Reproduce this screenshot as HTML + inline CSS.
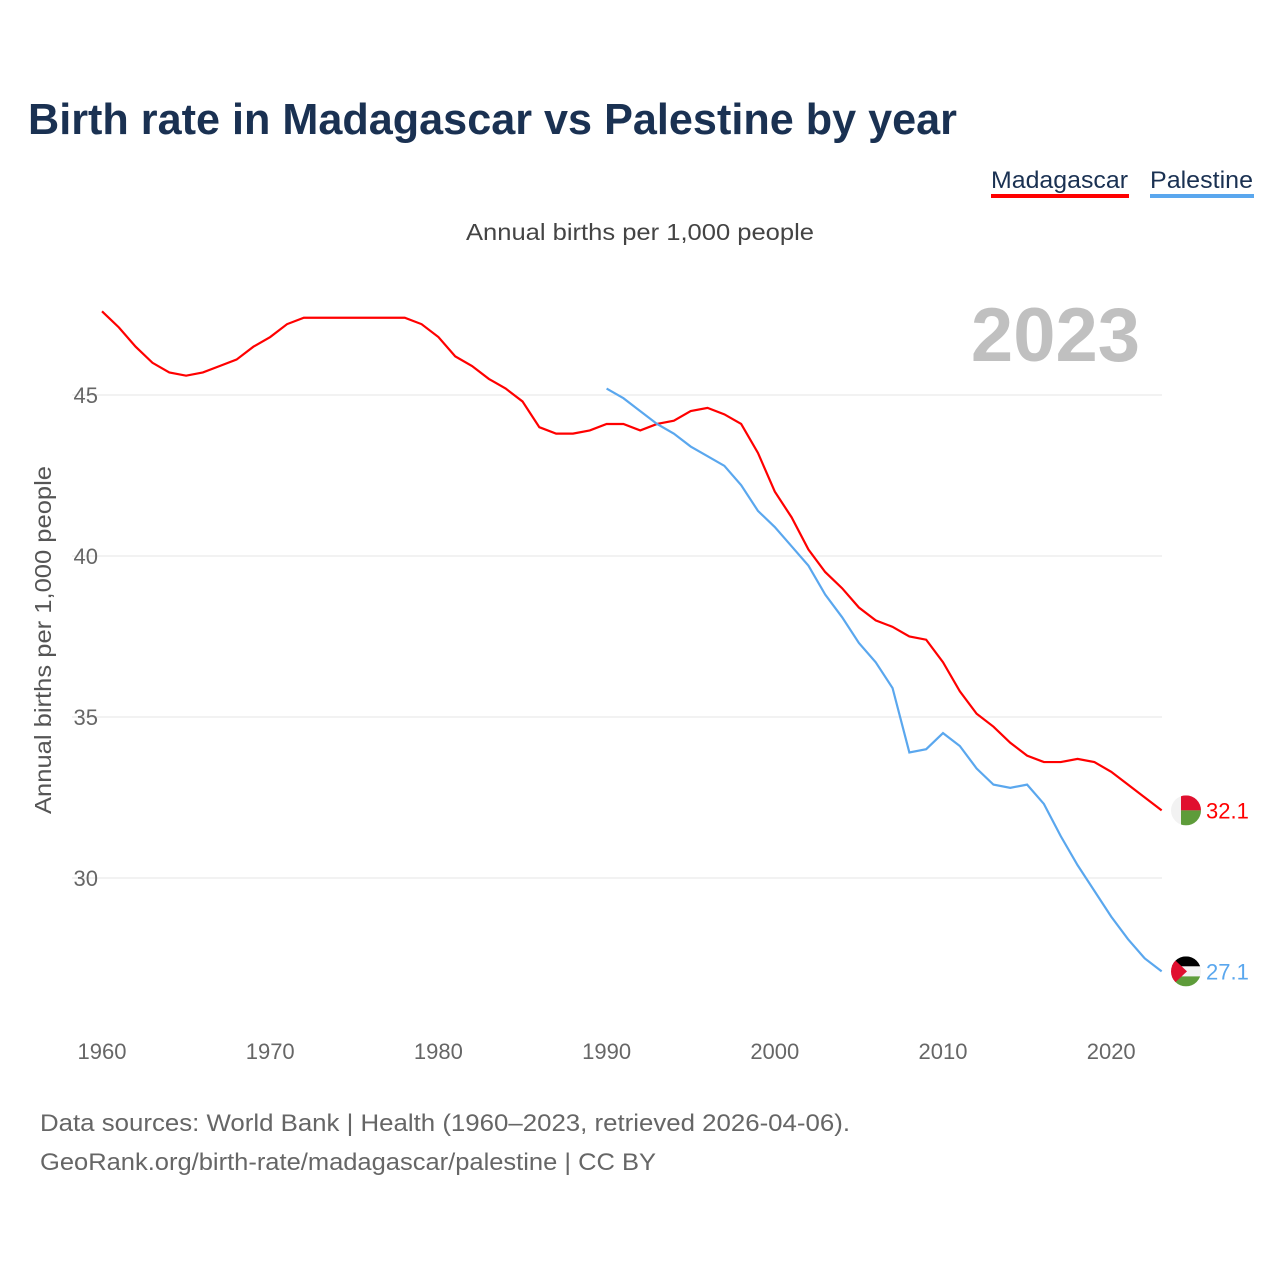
<!DOCTYPE html>
<html><head><meta charset="utf-8"><style>
html,body{margin:0;padding:0;background:#fff;}
svg{display:block;font-family:"Liberation Sans",sans-serif;}
</style></head><body>
<svg id="chart" width="1280" height="1280" viewBox="0 0 1280 1280" xmlns="http://www.w3.org/2000/svg">
<text x="28" y="134" font-size="44" font-weight="bold" fill="#1a3152" textLength="929" lengthAdjust="spacingAndGlyphs">Birth rate in Madagascar vs Palestine by year</text>
<g>
<text x="991" y="188" font-size="24" fill="#1a3152" textLength="137" lengthAdjust="spacingAndGlyphs">Madagascar</text>
<rect x="991" y="194" width="138" height="4" fill="#ff0000"/>
<text x="1150" y="188" font-size="24" fill="#1a3152" textLength="103" lengthAdjust="spacingAndGlyphs">Palestine</text>
<rect x="1150" y="194" width="104" height="4" fill="#5aa7ee"/>
</g>
<text x="640" y="240" font-size="23" fill="#444" text-anchor="middle" textLength="348" lengthAdjust="spacingAndGlyphs">Annual births per 1,000 people</text>
<text x="1140" y="361" font-size="76" font-weight="bold" fill="#c0c0c0" text-anchor="end">2023</text>
<text transform="translate(51,640) rotate(-90)" font-size="23" fill="#555" text-anchor="middle" textLength="348" lengthAdjust="spacingAndGlyphs">Annual births per 1,000 people</text>
<g id="grid"></g><g id="series"></g><g id="ends"></g>
<text x="40" y="1131" font-size="24" fill="#666" textLength="810" lengthAdjust="spacingAndGlyphs">Data sources: World Bank | Health (1960–2023, retrieved 2026-04-06).</text>
<text x="40" y="1170" font-size="24" fill="#666" textLength="616" lengthAdjust="spacingAndGlyphs">GeoRank.org/birth-rate/madagascar/palestine | CC BY</text>
</svg>
<script>
const years=[];for(let y=1960;y<=2023;y++)years.push(y);
const madagascar=[47.6,47.1,46.5,46.0,45.7,45.6,45.7,45.9,46.1,46.5,46.8,47.2,47.4,47.4,47.4,47.4,47.4,47.4,47.4,47.2,46.8,46.2,45.9,45.5,45.2,44.8,44.0,43.8,43.8,43.9,44.1,44.1,43.9,44.1,44.2,44.5,44.6,44.4,44.1,43.2,42.0,41.2,40.2,39.5,39.0,38.4,38.0,37.8,37.5,37.4,36.7,35.8,35.1,34.7,34.2,33.8,33.6,33.6,33.7,33.6,33.3,32.9,32.5,32.1];
const palestineYears=[];for(let y=1990;y<=2023;y++)palestineYears.push(y);
const palestine=[45.2,44.9,44.5,44.1,43.8,43.4,43.1,42.8,42.2,41.4,40.9,40.3,39.7,38.8,38.1,37.3,36.7,35.9,33.9,34.0,34.5,34.1,33.4,32.9,32.8,32.9,32.3,31.3,30.4,29.6,28.8,28.1,27.5,27.1];
const yTicks=[30,35,40,45];
const xTicks=[1960,1970,1980,1990,2000,2010,2020];
const NS="http://www.w3.org/2000/svg";
const xs=y=>102+(y-1960)*16.82;
const ys=v=>395+(45-v)*32.2;
function mk(t,a,p){const e=document.createElementNS(NS,t);for(const k in a)e.setAttribute(k,a[k]);p.appendChild(e);return e;}
const grid=document.getElementById('grid');
yTicks.forEach(v=>{
 const l=mk('line',{x1:72,x2:1162,y1:ys(v),y2:ys(v),stroke:'#e6e6e6','stroke-width':1},grid);
 
 
 const t=mk('text',{x:98,y:ys(v)+8,'font-size':22,fill:'#666','text-anchor':'end'},grid);t.textContent=v;
 
 
});
xTicks.forEach(v=>{
 const t=mk('text',{x:xs(v),y:1059,'font-size':22,fill:'#666','text-anchor':'middle'},grid);t.textContent=v;
 
 
});
const s=document.getElementById('series');
const p1=mk('polyline',{points:years.map((y,i)=>xs(y)+','+ys(madagascar[i])).join(' '),fill:'none',stroke:'#ff0000','stroke-width':2.2},s);


const p2=mk('polyline',{points:palestineYears.map((y,i)=>xs(y)+','+ys(palestine[i])).join(' '),fill:'none',stroke:'#5aa7ee','stroke-width':2.2},s);


const e=document.getElementById('ends');
const cx=1186;
const ym=ys(madagascar[madagascar.length-1]);
const gm=mk('g',{},e);


const cm=mk('clipPath',{id:'cm'},gm);mk('circle',{cx:cx,cy:ym,r:15},cm);
const fm=mk('g',{'clip-path':'url(#cm)'},gm);
mk('rect',{x:cx-15,y:ym-15,width:30,height:30,fill:'#f2f2f2'},fm);
mk('rect',{x:cx-5,y:ym-15,width:20,height:15,fill:'#e0102f'},fm);
mk('rect',{x:cx-5,y:ym,width:20,height:15,fill:'#5e9c3a'},fm);
const tm=mk('text',{x:1206,y:ym+8,'font-size':22,fill:'#ff0000'},e);tm.textContent=madagascar[madagascar.length-1].toFixed(1);


const yp=ys(palestine[palestine.length-1]);
const gp=mk('g',{},e);


const cp=mk('clipPath',{id:'cp'},gp);mk('circle',{cx:cx,cy:yp,r:15},cp);
const fp=mk('g',{'clip-path':'url(#cp)'},gp);
mk('rect',{x:cx-15,y:yp-15,width:30,height:10,fill:'#000'},fp);
mk('rect',{x:cx-15,y:yp-5,width:30,height:10,fill:'#f2f2f2'},fp);
mk('rect',{x:cx-15,y:yp+5,width:30,height:10,fill:'#5e9c3a'},fp);
mk('polygon',{points:(cx-15)+','+(yp-15)+' '+(cx+1)+','+yp+' '+(cx-15)+','+(yp+15),fill:'#e0102f'},fp);
const tp=mk('text',{x:1206,y:yp+8,'font-size':22,fill:'#5aa7ee'},e);tp.textContent=palestine[palestine.length-1].toFixed(1);


</script>
</body></html>
